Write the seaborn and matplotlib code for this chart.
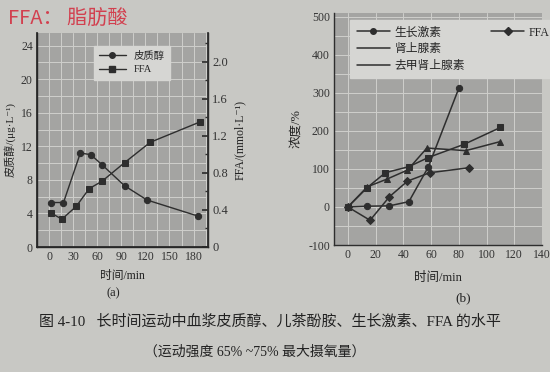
import matplotlib
matplotlib.use("Agg")
import matplotlib.pyplot as plt
from matplotlib.ticker import MultipleLocator
from matplotlib.lines import Line2D
import seaborn as sns
import pandas as pd

# ---------------- data ----------------
# panel (a)
cort_time = [3, 18, 39, 52, 66, 94, 122, 185]
cort_vals = [5.3, 5.3, 11.2, 11.0, 9.8, 7.3, 5.6, 3.7]          # μg/L
ffa_a_time = [2, 16, 34, 50, 66, 94, 126, 188]
ffa_a_vals = [0.37, 0.30, 0.44, 0.63, 0.71, 0.91, 1.13, 1.35]    # mmol/L
a_xticks = [0, 30, 60, 90, 120, 150, 180]
a_yticks_left = [0, 4, 8, 12, 16, 20, 24]
a_yticks_right = [0, 0.4, 0.8, 1.2, 1.6, 2.0]

# panel (b)
gh_time = [0, 14, 30, 44, 58, 80]
gh_vals = [0, 2, 3, 14, 105, 312]
ffa_b_time = [0, 16, 30, 43, 59, 87]
ffa_b_vals = [0, -35, 27, 68, 90, 103]
epi_time = [0, 14, 27, 44, 58, 84, 110]
epi_vals = [0, 51, 90, 106, 130, 165, 209]
ne_time = [0, 14, 28, 43, 57, 85, 110]
ne_vals = [0, 53, 73, 97, 155, 148, 172]
b_xticks = [0, 20, 40, 60, 80, 100, 120, 140]
b_yticks = [-100, 0, 100, 200, 300, 400, 500]

# ---------------- style ----------------
sns.set_theme(style="white")
FAM = ["Liberation Serif", "Noto Sans CJK SC", "DejaVu Sans"]
plt.rcParams["font.family"] = FAM
plt.rcParams["axes.unicode_minus"] = False

PAPER = "#c8c8c4"
PLOT = "#a4a4a2"
GRID = "#cfcfcc"
INK = "#2e2e2e"

fig = plt.figure(figsize=(5.5, 3.72), dpi=100, facecolor=PAPER)

# ---------------- panel (a) ----------------
axa = fig.add_axes([37/550, 1-247/372, 171/550, 214/372])
axa.set_facecolor(PLOT)
dfc = pd.DataFrame({"t": cort_time, "v": cort_vals})
sns.lineplot(data=dfc, x="t", y="v", ax=axa, color=INK, lw=1.0, marker="o",
             markersize=4.5, markeredgecolor=INK, sort=False, zorder=3)
axa.set_xlim(-15, 198)
axa.set_ylim(0, 25.5)
axa.set_xticks(a_xticks)
axa.set_yticks(a_yticks_left)
axa.xaxis.set_minor_locator(MultipleLocator(15))
axa.yaxis.set_minor_locator(MultipleLocator(2))
axa.grid(True, which="both", color=GRID, lw=0.7)
axa.set_axisbelow(True)
axa.spines["top"].set_visible(False)
for s in ["left", "bottom", "right"]:
    axa.spines[s].set_color(INK)
    axa.spines[s].set_linewidth(1.0)
axa.tick_params(axis="both", which="both", length=0, labelsize=8.5,
                colors="#333333", pad=3)
axa.set_xlabel("时间/min", fontsize=8.5, color="#222222", labelpad=5)
axa.set_ylabel("皮质醇/(μg·L⁻¹)", fontsize=8, color="#222222", labelpad=4)

axa2 = axa.twinx()
dff = pd.DataFrame({"t": ffa_a_time, "v": ffa_a_vals})
sns.lineplot(data=dff, x="t", y="v", ax=axa2, color=INK, lw=1.0, marker="s",
             markersize=4.5, markeredgecolor=INK, sort=False, zorder=3)
axa2.set_ylim(0, 2.31)
axa2.set_yticks(a_yticks_right)
axa2.set_yticklabels(["0", "0.4", "0.8", "1.2", "1.6", "2.0"])
axa2.yaxis.set_minor_locator(MultipleLocator(0.2))
axa2.tick_params(axis="y", which="major", direction="in", length=4,
                 color=INK, labelsize=9, colors="#333333", pad=3)
axa2.tick_params(axis="y", which="minor", direction="in", length=2.5, color=INK)
axa2.spines["top"].set_visible(False)
axa2.spines["right"].set_color(INK)
axa2.set_ylabel("FFA/(mmol·L⁻¹)", fontsize=8.5, color="#222222", labelpad=4)

ha = [Line2D([], [], color=INK, lw=1.0, marker="o", markersize=4),
      Line2D([], [], color=INK, lw=1.0, marker="s", markersize=4)]
lga = axa2.legend(ha, ["皮质醇", "FFA"], loc="upper left",
                  bbox_to_anchor=(0.30, 0.965), fontsize=7.5, frameon=True,
                  fancybox=False, framealpha=1, handlelength=2.6,
                  borderpad=0.5, labelspacing=0.4)
lga.get_frame().set_facecolor("#d6d6d3")
lga.get_frame().set_edgecolor("#d6d6d3")

# ---------------- panel (b) ----------------
axb = fig.add_axes([334/550, 1-245/372, 208/550, 232/372])
axb.set_facecolor(PLOT)
series = [
    (gh_time, gh_vals, "o", 4.5),
    (epi_time, epi_vals, "s", 5.0),
    (ne_time, ne_vals, "^", 5.0),
    (ffa_b_time, ffa_b_vals, "D", 4.5),
]
for t, v, m, ms in series:
    d = pd.DataFrame({"t": t, "v": v})
    sns.lineplot(data=d, x="t", y="v", ax=axb, color=INK, lw=1.1, marker=m,
                 markersize=ms, markeredgecolor=INK, sort=False, zorder=3)
axb.set_xlim(-10, 140)
axb.set_ylim(-100, 510)
axb.set_xticks(b_xticks)
axb.set_yticks(b_yticks)
axb.xaxis.set_minor_locator(MultipleLocator(20))
axb.yaxis.set_minor_locator(MultipleLocator(50))
axb.grid(True, which="both", color=GRID, lw=0.7)
axb.set_axisbelow(True)
for s in ["top", "right"]:
    axb.spines[s].set_visible(False)
for s in ["left", "bottom"]:
    axb.spines[s].set_color(INK)
    axb.spines[s].set_linewidth(1.0)
axb.tick_params(axis="both", which="both", length=0, labelsize=8.5,
                colors="#333333", pad=3)
axb.set_xlabel("时间/min", fontsize=9, color="#222222", labelpad=8)
axb.set_ylabel("浓度/%", fontsize=9, color="#222222", labelpad=4)

hb = [Line2D([], [], color=INK, lw=1.1, marker="o", markersize=4),
      Line2D([], [], color=INK, lw=1.1),
      Line2D([], [], color=INK, lw=1.1),
      Line2D([], [], color=INK, lw=1.1, marker="D", markersize=4.5),
      Line2D([], [], color="none"),
      Line2D([], [], color="none")]
lb = ["生长激素", "肾上腺素", "去甲肾上腺素", "FFA", "", ""]
lgb = axb.legend(hb, lb, loc="upper left", bbox_to_anchor=(0.05, 0.995),
                 ncol=2, fontsize=8.5, frameon=True, fancybox=False,
                 framealpha=1, handlelength=2.8, borderpad=0.55,
                 labelspacing=0.4, columnspacing=2.2, handletextpad=0.4)
lgb.get_frame().set_facecolor("#d6d6d3")
lgb.get_frame().set_edgecolor("#d6d6d3")

# ---------------- texts ----------------
fig.text(8/550, 1-18/372, "FFA： 脂肪酸", fontsize=14.5, color="#d2404f",
         family=["Noto Sans CJK SC", "DejaVu Sans"], va="center", ha="left")
fig.text(113/550, 1-293/372, "(a)", fontsize=9, color="#222222",
         ha="center", va="center")
fig.text(463/550, 1-298/372, "(b)", fontsize=9.5, color="#222222",
         ha="center", va="center")
fig.text(270/550, 1-322/372,
         "图 4-10   长时间运动中血浆皮质醇、儿茶酚胺、生长激素、FFA 的水平",
         fontsize=10.8, color="#222222", ha="center", va="center")
fig.text(255/550, 1-352/372, "（运动强度 65% ~75% 最大摄氧量）",
         fontsize=10, color="#222222", ha="center", va="center")

fig.savefig("out.png", dpi=100, facecolor=PAPER)
